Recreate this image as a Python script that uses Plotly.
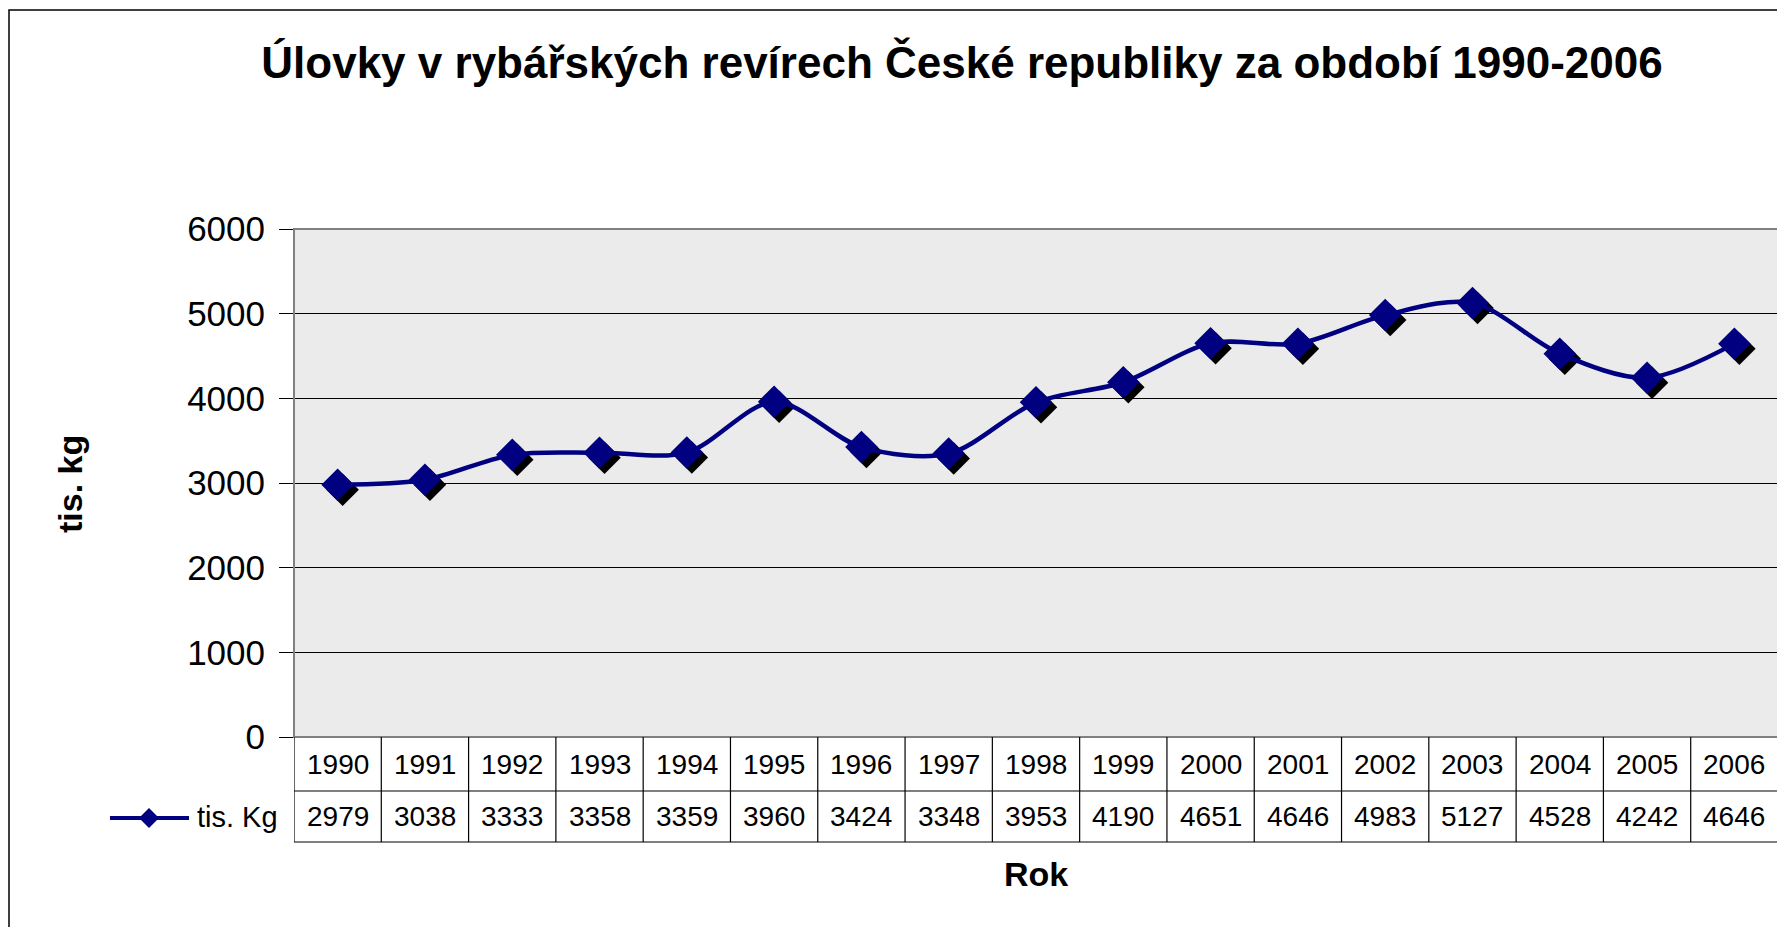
import plotly.graph_objects as go

years = [1990, 1991, 1992, 1993, 1994, 1995, 1996, 1997, 1998,
         1999, 2000, 2001, 2002, 2003, 2004, 2005, 2006]
values = [2979, 3038, 3333, 3358, 3359, 3960, 3424, 3348, 3953,
          4190, 4651, 4646, 4983, 5127, 4528, 4242, 4646]
series_name = "tis. Kg"
title_text = "Úlovky v rybářských revírech České republiky za období 1990-2006"
y_title = "tis. kg"
x_title = "Rok"
y_ticks = [0, 1000, 2000, 3000, 4000, 5000, 6000]

# screen offset introduced by the page's default body margin
OFF = 8
W, H = 1785, 927
# target plot area in screen pixels
SL, SR, ST, SB = 294, 1778, 229, 737
ML = SL - OFF
MT = ST - OFF
MR = W - (SR - OFF)
MB = H - (SB - OFF)
PW = W - ML - MR
PH = H - MT - MB
x0r, x1r = years[0] - 0.5, years[-1] + 0.5
ymin, ymax = 0, 6000
px_per_x = PW / (x1r - x0r)
px_per_y = PH / (ymax - ymin)

def py(pix):  # screen row -> paper y
    return (SB - pix) / PH

def pxp(pix):  # screen col -> paper x
    return (pix - SL) / PW

NAVY = "#000080"
FONT = "Liberation Sans, Arial, sans-serif"

# shadow offset (pixels)
sdx, sdy = 5, 5
dx = sdx / px_per_x
dy = sdy / px_per_y

fig = go.Figure()
# shadow markers
fig.add_trace(go.Scatter(x=years, y=values, mode="markers", xaxis="x2", yaxis="y2",
                         marker=dict(symbol="diamond", size=25, color="black", line=dict(width=0)),
                         hoverinfo="skip", showlegend=False))
# main line + markers
fig.add_trace(go.Scatter(x=years, y=values, mode="lines+markers", xaxis="x3", yaxis="y3",
                         line=dict(color=NAVY, width=4.5, shape="spline", smoothing=0.9),
                         marker=dict(symbol="diamond", size=25, color=NAVY, line=dict(width=0)),
                         name=series_name, showlegend=False))

shapes = []
# plot border
shapes.append(dict(type="rect", xref="paper", yref="paper", x0=0, x1=1, y0=0, y1=1,
                   line=dict(color="#808080", width=2), layer="above"))
# outer chart border
shapes.append(dict(type="rect", xref="paper", yref="paper", x0=pxp(9), x1=pxp(1810),
                   y0=py(980), y1=py(10), line=dict(color="black", width=1.5), layer="above"))

# table
row1 = py(791)
row2 = py(842)
leg_left = x0r + (106 - SL) / px_per_x
tline = dict(color="black", width=1.2)
shapes.append(dict(type="line", xref="x", yref="paper", x0=leg_left, x1=x1r, y0=row1, y1=row1, line=tline))
shapes.append(dict(type="line", xref="x", yref="paper", x0=leg_left, x1=x1r, y0=row2, y1=row2, line=tline))
shapes.append(dict(type="line", xref="x", yref="paper", x0=leg_left, x1=leg_left, y0=row1, y1=row2, line=tline))
for k in range(len(years) + 1):
    xv = x0r + k
    shapes.append(dict(type="line", xref="x", yref="paper", x0=xv, x1=xv, y0=0, y1=row2, line=tline))

# legend glyph
ly = py(818)
shapes.append(dict(type="line", xref="paper", yref="paper", x0=pxp(110), x1=pxp(189), y0=ly, y1=ly,
                   line=dict(color=NAVY, width=4)))
shapes.append(dict(type="path", xref="paper", yref="paper", xsizemode="pixel", ysizemode="pixel",
                   xanchor=pxp(149), yanchor=ly, path="M -10 0 L 0 10 L 10 0 L 0 -10 Z",
                   fillcolor=NAVY, line=dict(color=NAVY, width=0)))

annotations = []
hy = py((737 + 791) / 2)
vy = py((791 + 842) / 2)
for yr, v in zip(years, values):
    annotations.append(dict(x=yr, y=hy, xref="x", yref="paper", text=str(yr), showarrow=False,
                            font=dict(size=28, color="black", family=FONT), xanchor="center", yanchor="middle"))
    annotations.append(dict(x=yr, y=vy, xref="x", yref="paper", text=str(v), showarrow=False,
                            font=dict(size=28, color="black", family=FONT), xanchor="center", yanchor="middle"))
annotations.append(dict(x=pxp(195), y=vy, xref="paper", yref="paper", text=series_name, showarrow=False,
                        font=dict(size=29, color="black", family=FONT), xanchor="left", yanchor="middle"))
annotations.append(dict(x=pxp(70), y=py(484), xref="paper", yref="paper", text="<b>" + y_title + "</b>",
                        showarrow=False, textangle=-90, font=dict(size=34, color="black", family=FONT),
                        xanchor="center", yanchor="middle"))
annotations.append(dict(x=pxp(1036), y=py(874), xref="paper", yref="paper", text="<b>" + x_title + "</b>",
                        showarrow=False, font=dict(size=34, color="black", family=FONT),
                        xanchor="center", yanchor="middle"))

fig.update_layout(
    width=W, height=H,
    margin=dict(l=ML, r=MR, t=MT, b=MB),
    paper_bgcolor="white",
    plot_bgcolor="#ebebeb",
    title=dict(text="<b>" + title_text + "</b>", x=(962 - OFF) / W, xanchor="center", xref="container",
               y=1 - (63 - OFF) / H, yanchor="middle", font=dict(size=44, color="black", family=FONT)),
    xaxis=dict(range=[x0r, x1r], showticklabels=False, showgrid=False, zeroline=False,
               ticks="", showline=False, fixedrange=True),
    yaxis=dict(range=[ymin, ymax], tickvals=y_ticks, ticks="outside", ticklen=14, tickwidth=1.2,
               tickcolor="black", showgrid=True, gridcolor="black", gridwidth=1, zeroline=False,
               showline=False, tickfont=dict(size=35, color="black", family=FONT), ticklabelstandoff=7,
               fixedrange=True),
    xaxis2=dict(range=[x0r - dx, x1r - dx], overlaying="x", visible=False, fixedrange=True),
    yaxis2=dict(range=[ymin + dy, ymax + dy], overlaying="y", visible=False, fixedrange=True),
    xaxis3=dict(range=[x0r, x1r], overlaying="x", visible=False, fixedrange=True),
    yaxis3=dict(range=[ymin, ymax], overlaying="y", visible=False, fixedrange=True),
    shapes=shapes,
    annotations=annotations,
    showlegend=False,
)

fig.write_html("out.html")
